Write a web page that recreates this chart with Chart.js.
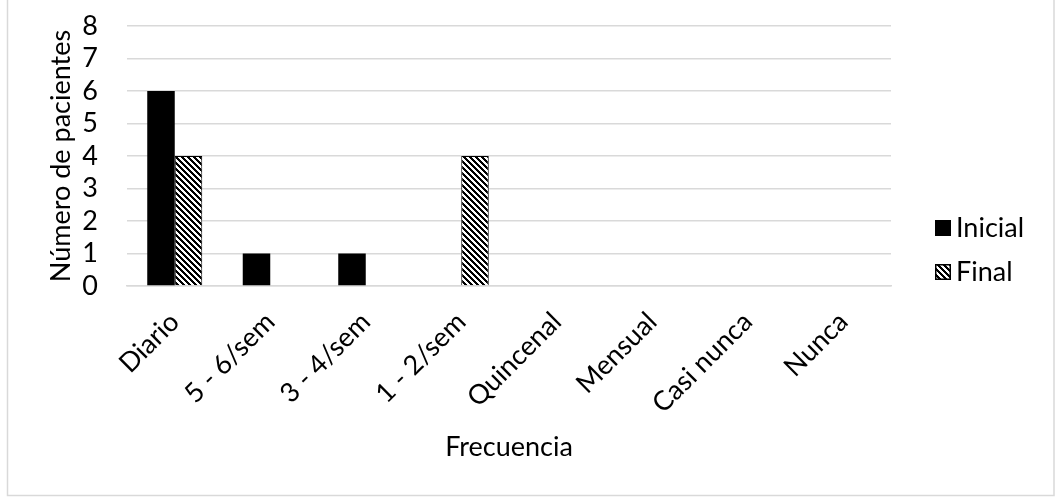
<!DOCTYPE html>
<html>
<head>
<meta charset="utf-8">
<script src="https://cdn.jsdelivr.net/npm/chart.js@4.4.1/dist/chart.umd.min.js"></script>
<style>
html,body{margin:0;padding:0;background:#fff;}
canvas{display:block;}
</style>
</head>
<body>
<canvas id="c" width="1061" height="497"></canvas>
<script>
const categories = ['Diario', '5 - 6/sem', '3 - 4/sem', '1 - 2/sem', 'Quincenal', 'Mensual', 'Casi nunca', 'Nunca'];
const inicial = [6, 1, 1, 0, 0, 0, 0, 0];
const final = [4, 0, 0, 4, 0, 0, 0, 0];
const seriesNames = ['Inicial', 'Final'];
const yTitle = 'Número de pacientes';
const xTitle = 'Frecuencia';

const FONT = 'Lato, "Open Sans", sans-serif';
const FS = 27;

function makeHatch() {
  const t = document.createElement('canvas');
  t.width = 6; t.height = 6;
  const g = t.getContext('2d');
  g.fillStyle = '#fff'; g.fillRect(0, 0, 6, 6);
  g.fillStyle = '#000';
  for (let y = 0; y < 6; y++) for (let x = 0; x < 6; x++) {
    if (((x - y) % 6 + 6) % 6 < 3) g.fillRect(x, y, 1, 1);
  }
  return document.getElementById('c').getContext('2d').createPattern(t, 'repeat');
}
const hatch = makeHatch();

const framePlugin = {
  id: 'frame',
  beforeDraw(chart) {
    const ctx = chart.ctx;
    ctx.save();
    ctx.fillStyle = '#fff';
    ctx.fillRect(0, 0, chart.width, chart.height);
    ctx.strokeStyle = '#d9d9d9';
    ctx.lineWidth = 1.5;
    ctx.strokeRect(7.5, -2, 1046.5, 497.5);
    ctx.restore();
  },
  afterDraw(chart) {
    const ctx = chart.ctx;
    ctx.save();
    ctx.font = FS + 'px ' + FONT;
    ctx.textBaseline = 'middle';
    const rows = [228, 272];
    chart.data.datasets.forEach((ds, i) => {
      const y = rows[i];
      const bx = 935, bs = 16;
      ctx.fillStyle = ds.backgroundColor;
      ctx.fillRect(bx, y - bs / 2, bs, bs);
      ctx.strokeStyle = '#000';
      ctx.lineWidth = 1.5;
      ctx.strokeRect(bx + 0.75, y - bs / 2 + 0.75, bs - 1.5, bs - 1.5);
      ctx.fillStyle = '#000';
      ctx.fillText(ds.label, 956, y);
    });
    ctx.restore();
  }
};

new Chart(document.getElementById('c'), {
  type: 'bar',
  data: {
    labels: categories,
    datasets: [
      { label: seriesNames[0], data: inicial, backgroundColor: '#000', borderColor: '#000', borderWidth: 0,
        categoryPercentage: 0.576, barPercentage: 1 },
      { label: seriesNames[1], data: final, backgroundColor: hatch, borderColor: '#000', borderWidth: 1,
        categoryPercentage: 0.576, barPercentage: 1 }
    ]
  },
  options: {
    responsive: false,
    animation: false,
    events: [],
    layout: { padding: { left: 0, right: 170, top: 26, bottom: 0 } },
    plugins: { legend: { display: false }, tooltip: { enabled: false } },
    scales: {
      x: {
        grid: { display: false, drawTicks: false },
        border: { display: true, color: '#d9d9d9', width: 1.5 },
        ticks: { color: '#000', font: { family: FONT, size: FS }, minRotation: 45, maxRotation: 45, padding: 20, autoSkip: false },
        title: { display: true, text: xTitle, color: '#000', font: { family: FONT, size: FS, lineHeight: 1.2 }, padding: { top: 0, bottom: 34 } },
        afterFit(s) { s.height = 211; s.paddingLeft = 0; s.paddingRight = 0; s.paddingTop = 0; s.paddingBottom = 0; }
      },
      y: {
        min: 0, max: 8,
        grid: { color: '#d9d9d9', lineWidth: 1.5, drawTicks: false },
        border: { display: false },
        ticks: { stepSize: 1, autoSkip: false, color: '#000', font: { family: FONT, size: FS }, padding: 29 },
        title: { display: true, text: yTitle, color: '#000', font: { family: FONT, size: FS, lineHeight: 1.2 }, padding: { top: 45, bottom: 0 } },
        afterFit(s) { s.width = 127; s.paddingTop = 0; s.paddingBottom = 0; s.paddingLeft = 0; s.paddingRight = 0; }
      }
    }
  },
  plugins: [framePlugin]
});
</script>
</body>
</html>
